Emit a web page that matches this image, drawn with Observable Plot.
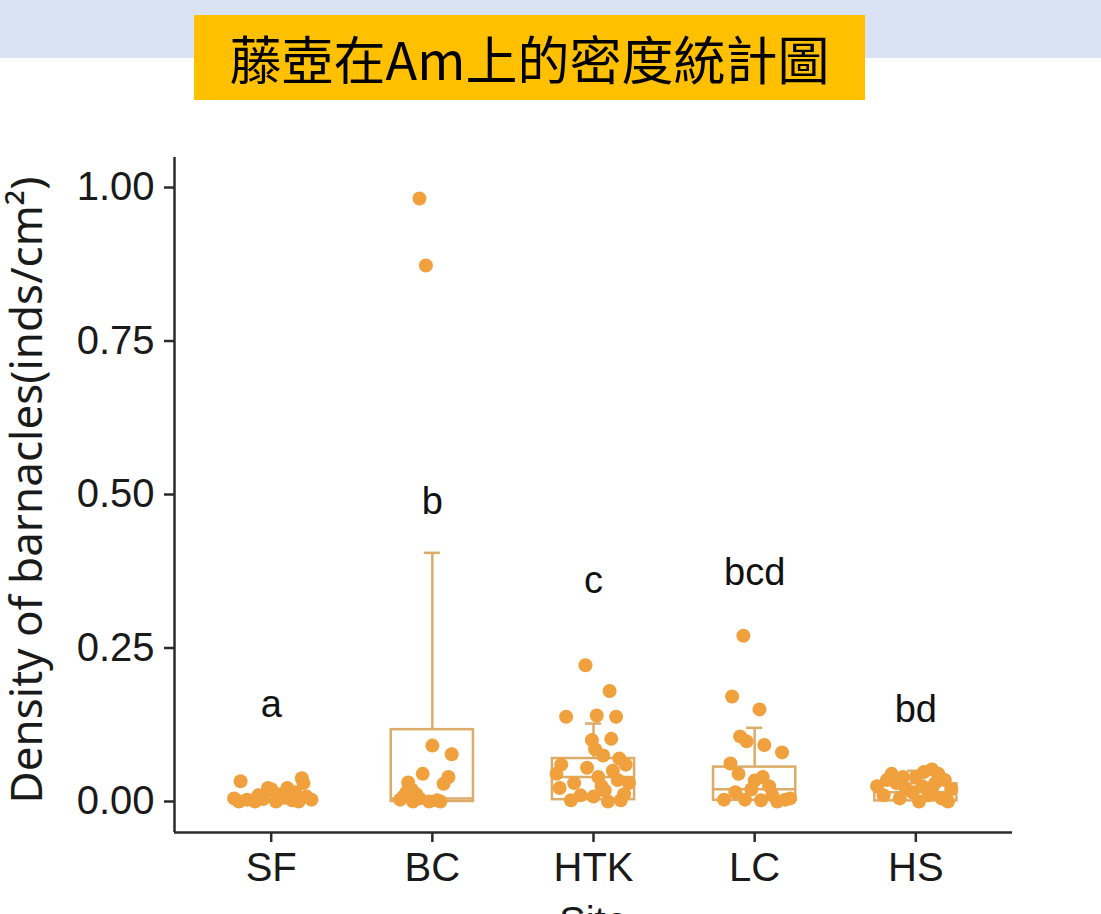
<!DOCTYPE html>
<html>
<head>
<meta charset="utf-8">
<script src="https://cdn.jsdelivr.net/npm/d3@7"></script>
<script src="https://cdn.jsdelivr.net/npm/@observablehq/plot@0.6"></script>
<style>
  html, body { margin: 0; padding: 0; width: 1101px; height: 914px; overflow: hidden; background: #ffffff; }
  #band { position: absolute; left: 0; top: 0; width: 1101px; height: 58px; background: #dae3f3; }
  #title { position: absolute; left: 194px; top: 15px; width: 671px; height: 85px; background: #ffc000;
           font-family: "Noto Sans CJK TC", "Noto Sans CJK SC", sans-serif; font-size: 52px; color: #000;
           line-height: 85px; text-align: center; letter-spacing: 0px; }
  #chart { position: absolute; left: 0; top: 100px; }
</style>
</head>
<body>
<div id="band"></div>
<div id="title">藤壺在Am上的密度統計圖</div>
<div id="chart"></div>
<script>
// ---- data ----
const sites = ["SF", "BC", "HTK", "LC", "HS"];
const letters = ["a", "b", "c", "bcd", "bd"];
const letterY = [0.138, 0.469, 0.340, 0.352, 0.130];
const yTicks = [0, 0.25, 0.5, 0.75, 1];
const yTitle = "Density of barnacles(inds/cm²)";
const xTitle = "Site";

const boxQ1 = [0, 0, 0.003, 0.002, 0.001];
const boxMedian = [0.002, 0.005, 0.040, 0.020, 0.015];
const boxQ3 = [0.008, 0.117, 0.070, 0.056, 0.029];
const whiskerHigh = [0.020, 0.405, 0.127, 0.120, 0.050];

// [jitter, density]
const sfPoints = [[-0.19,0.033],[-0.02,0.022],[0.00,0.020],[0.10,0.022],[0.19,0.038],[0.20,0.030],[-0.23,0.005],[-0.15,0.003],[-0.10,0.000],[-0.05,0.004],[0.03,0.000],[0.08,0.006],[0.13,0.002],[0.17,0.000],[0.22,0.008],[0.25,0.003],[-0.20,0.000],[0.06,0.012],[-0.08,0.010],[0.15,0.015]];
const bcPoints = [[-0.08,0.982],[-0.04,0.873],[0.00,0.091],[0.12,0.077],[0.10,0.040],[0.07,0.029],[-0.06,0.045],[-0.15,0.031],[-0.16,0.015],[-0.20,0.003],[-0.12,0.000],[-0.08,0.005],[-0.02,0.000],[0.03,0.002],[-0.18,0.008],[-0.10,0.012],[0.05,0.000],[-0.13,0.020]];
const htkPoints = [[-0.05,0.222],[0.10,0.180],[-0.17,0.138],[0.02,0.140],[0.14,0.138],[-0.01,0.100],[0.11,0.102],[0.01,0.085],[0.06,0.075],[-0.20,0.060],[0.16,0.070],[0.20,0.060],[-0.04,0.055],[0.03,0.040],[0.15,0.035],[-0.21,0.022],[0.07,0.018],[-0.14,0.002],[0.17,0.002],[0.09,0.000],[-0.23,0.045],[0.22,0.030],[-0.08,0.010],[0.12,0.050],[-0.12,0.030],[0.05,0.025],[0.19,0.012],[0.00,0.008]];
const lcPoints = [[-0.07,0.270],[-0.14,0.171],[0.03,0.150],[-0.09,0.106],[-0.05,0.098],[0.06,0.092],[0.17,0.080],[-0.15,0.062],[-0.10,0.045],[0.00,0.034],[0.05,0.040],[-0.19,0.003],[0.11,0.010],[0.19,0.003],[-0.06,0.003],[0.04,0.002],[0.14,0.000],[-0.02,0.020],[0.09,0.025],[-0.12,0.015],[0.22,0.005]];
const hsPoints = [[-0.24,0.025],[-0.18,0.035],[-0.12,0.030],[-0.06,0.020],[0.00,0.040],[0.05,0.048],[0.10,0.052],[0.14,0.045],[0.18,0.035],[0.22,0.020],[-0.20,0.010],[-0.10,0.005],[-0.02,0.015],[0.04,0.025],[0.08,0.010],[0.12,0.030],[0.16,0.005],[0.20,0.000],[-0.15,0.045],[0.02,0.000],[0.10,0.020],[-0.08,0.040]];

// ---- build tables ----
const pointSets = [sfPoints, bcPoints, htkPoints, lcPoints, hsPoints];
const pts = pointSets.flatMap((set, i) => set.map(([j, v]) => ({x: i + j, y: v})));
const boxes = sites.map((s, i) => ({i, q1: boxQ1[i], med: boxMedian[i], q3: boxQ3[i], hi: whiskerHigh[i], label: letters[i], ly: letterY[i]}));

const boxColor = "#dcab68";
const dotColor = "#f0a03c";
const axisColor = "#2b2b2b";
const halfBox = 0.255, halfCap = 0.05;
const xMin = -0.6, xMax = 4.6, yMin = -0.0505, yMax = 1.0489;
const sans = "'Liberation Sans', Arial, sans-serif";

const chart = Plot.plot({
  width: 1101,
  height: 840,
  marginTop: 57,
  marginBottom: 108,
  marginLeft: 174,
  marginRight: 89,
  style: {fontFamily: sans, fontSize: "40px", background: "transparent", color: "#1a1a1a"},
  x: {domain: [xMin, xMax]},
  y: {domain: [yMin, yMax]},
  marks: [
    Plot.ruleX(boxes, {x: "i", y1: "q3", y2: "hi", stroke: boxColor, strokeWidth: 2.5}),
    Plot.ruleY(boxes, {y: "hi", x1: d => d.i - halfCap, x2: d => d.i + halfCap, stroke: boxColor, strokeWidth: 2.5}),
    Plot.rect(boxes, {x1: d => d.i - halfBox, x2: d => d.i + halfBox, y1: "q1", y2: "q3", fill: "white", stroke: boxColor, strokeWidth: 2.5}),
    Plot.ruleY(boxes, {y: "med", x1: d => d.i - halfBox, x2: d => d.i + halfBox, stroke: boxColor, strokeWidth: 2.5}),
    Plot.dot(pts, {x: "x", y: "y", r: 7, fill: dotColor, stroke: "none"}),
    Plot.text(boxes, {x: "i", y: "ly", text: "label", lineAnchor: "bottom", fontSize: 38, fill: "#111", fontFamily: sans}),
    Plot.axisY({ticks: yTicks, tickFormat: d3.format(".2f"), tickSize: 10, tickPadding: 10, stroke: axisColor, strokeWidth: 2.5,
      label: null, fontSize: 40, fill: "#1a1a1a"}),
    Plot.text([yTitle], {frameAnchor: "left", textAnchor: "middle", lineAnchor: "middle", rotate: -90, dx: -147, dy: -5, fontSize: 44, fill: "#1a1a1a", fontFamily: "'Noto Sans', 'Open Sans', sans-serif"}),
    Plot.axisX({ticks: [0, 1, 2, 3, 4], tickFormat: i => sites[i], tickSize: 10, tickPadding: 10, stroke: axisColor, strokeWidth: 2.5,
      label: xTitle, labelAnchor: "center", labelOffset: 102, labelArrow: "none", fontSize: 40, fill: "#1a1a1a"}),
    Plot.ruleX([xMin], {stroke: axisColor, strokeWidth: 2.5}),
    Plot.ruleY([yMin], {stroke: axisColor, strokeWidth: 2.5})
  ]
});
document.getElementById("chart").appendChild(chart);
</script>
</body>
</html>
